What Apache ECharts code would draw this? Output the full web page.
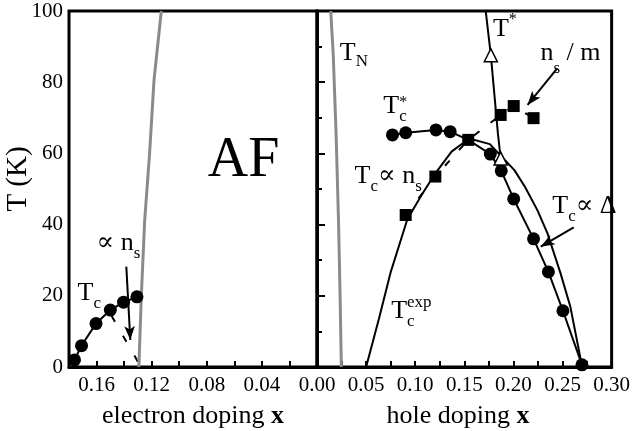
<!DOCTYPE html>
<html>
<head>
<meta charset="utf-8">
<style>
  html, body { margin: 0; padding: 0; background: #fff; }
  #chart { width: 633px; height: 431px; }
</style>
<script src="https://cdn.jsdelivr.net/npm/echarts/dist/echarts.min.js"></script>
</head>
<body>
<div id="chart"></div>
<script>
// ---- Electron-doped side (doping x, temperature K) ----
const electronTN = [[0.113, 100], [0.1183, 80.6], [0.1215, 60], [0.1251, 41], [0.1275, 20], [0.1293, 0]];
const electronTc = [[0.176, 2.0], [0.1709, 6.0], [0.1604, 12.2], [0.150, 16.0], [0.1404, 18.2], [0.1307, 19.7]];
const electronNsFit = [[0.1515, 16], [0.1278, 0]];

// ---- Hole-doped side ----
const holeTN = [[0.014, 100], [0.0165, 88], [0.0195, 65], [0.022, 40], [0.0235, 20], [0.0248, 0]];
const holeTcExp = [[0.05, 0], [0.063, 13.5], [0.0752, 26.8], [0.092, 41.5], [0.107, 48.5], [0.1205, 54.4],
                   [0.137, 60.5], [0.155, 64.2], [0.176, 62.6], [0.19, 58.5], [0.201, 55.3], [0.212, 50.5],
                   [0.2245, 44], [0.2346, 37.6], [0.248, 26.3], [0.258, 16.9], [0.27, 0]];
const holeTcCircles = [[0.0768, 65.2], [0.0903, 65.8], [0.1211, 66.6], [0.1356, 66.1], [0.154, 63.8],
                       [0.1765, 59.8], [0.1876, 55.1], [0.2003, 47.2], [0.2205, 36.0], [0.2356, 26.7],
                       [0.2504, 15.8], [0.2698, 0.6]];
const holeTcCircleShown = [true, true, true, true, false, true, true, true, true, true, true, true];
const holeNsSquares = [[0.0903, 42.7], [0.1205, 53.5], [0.154, 63.8], [0.187, 70.8], [0.2003, 73.3], [0.2205, 69.9]];
const holeTstar = [[0.1718, 100], [0.177, 87.6], [0.1842, 65.6], [0.187, 58.6]];
const holeTstarShown = [false, true, false, true];

// ---- Arrows (from, to) ----
const electronArrows = [[[0.1384, 28.2], [0.1355, 7.6]]];
const holeArrows = [[[0.2446, 83.9], [0.2144, 73.6]], [[0.2614, 39.2], [0.2278, 33.8]]];

// ---- Tick labels ----
const tempTickLabels = ['0', '20', '40', '60', '80', '100'];
const electronTickLabels = ['0.16', '0.12', '0.08', '0.04'];
const holeTickLabels = ['0.00', '0.05', '0.10', '0.15', '0.20', '0.25', '0.30'];

const SERIF = '"Liberation Serif", "Times New Roman", "DejaVu Serif", serif';
const BLACK = '#000';
const GREY = '#8a8a8a';

const chart = echarts.init(document.getElementById('chart'), null, { renderer: 'canvas' });

const axisLabelStyle = { fontFamily: SERIF, fontSize: 21, color: BLACK };

function xAxisFor(gridIndex, max, interval, inverse, labels) {
  return {
    type: 'value', gridIndex, min: 0, max, interval, inverse,
    axisLine: { show: true, onZero: false, lineStyle: { color: BLACK, width: 3 } },
    axisTick: { show: true, inside: true, length: 6, lineStyle: { color: BLACK, width: 2 } },
    splitLine: { show: false },
    axisLabel: Object.assign({
      margin: 8, showMinLabel: true, showMaxLabel: true,
      formatter: v => { const s = v.toFixed(2); return labels.includes(s) ? s : ''; }
    }, axisLabelStyle)
  };
}

function arrowSeries(xi, yi, arrows) {
  return {
    type: 'line', xAxisIndex: xi, yAxisIndex: yi, data: [], silent: true,
    markLine: {
      silent: true, symbol: ['none', 'arrow'], symbolSize: [8, 14],
      label: { show: false },
      lineStyle: { color: BLACK, width: 2, type: 'solid' },
      emphasis: { disabled: true },
      data: arrows.map(a => [{ coord: a[0] }, { coord: a[1] }])
    }
  };
}

const option = {
  animation: false,
  backgroundColor: '#fff',
  grid: [
    { left: 69, top: 11, width: 248, height: 356, show: true, borderColor: BLACK, borderWidth: 3, containLabel: false },
    { left: 317, top: 11, width: 298, height: 356, show: true, borderColor: BLACK, borderWidth: 3, containLabel: false }
  ],
  xAxis: [
    xAxisFor(0, 0.18, 0.02, true, electronTickLabels),
    xAxisFor(1, 0.30, 0.025, false, holeTickLabels)
  ],
  yAxis: [
    {
      type: 'value', gridIndex: 0, min: 0, max: 100, interval: 20,
      axisLine: { show: true, lineStyle: { color: BLACK, width: 3 } },
      axisTick: { show: true, inside: true, length: 8, lineStyle: { color: BLACK, width: 2 } },
      minorTick: { show: true, splitNumber: 2, length: 5, lineStyle: { color: BLACK, width: 2 } },
      splitLine: { show: false },
      axisLabel: Object.assign({ margin: 6, formatter: v => { const s = String(Math.round(v)); return tempTickLabels.includes(s) ? s : ''; } }, axisLabelStyle)
    },
    {
      type: 'value', gridIndex: 1, min: 0, max: 100, interval: 20,
      axisLine: { show: false }, axisTick: { show: false }, axisLabel: { show: false }, splitLine: { show: false }
    }
  ],
  series: [
    // electron side: superconducting Tc with filled circles
    {
      type: 'line', xAxisIndex: 0, yAxisIndex: 0, data: electronTc,
      symbol: 'circle', symbolSize: 13, itemStyle: { color: BLACK },
      lineStyle: { color: BLACK, width: 2 }
    },
    // electron side: Tc proportional to superfluid density (dashed)
    {
      type: 'line', xAxisIndex: 0, yAxisIndex: 0, data: electronNsFit, symbol: 'none',
      lineStyle: { color: BLACK, width: 2, type: [7, 16], dashOffset: 16.5 }
    },
    // electron side: Neel temperature
    {
      type: 'line', xAxisIndex: 0, yAxisIndex: 0, data: electronTN, symbol: 'none',
      lineStyle: { color: GREY, width: 3 }
    },
    arrowSeries(0, 0, electronArrows),

    // hole side: Neel temperature
    {
      type: 'line', xAxisIndex: 1, yAxisIndex: 1, data: holeTN, symbol: 'none',
      lineStyle: { color: GREY, width: 3 }
    },
    // hole side: experimental Tc dome
    {
      type: 'line', xAxisIndex: 1, yAxisIndex: 1, data: holeTcExp, symbol: 'none',
      lineStyle: { color: BLACK, width: 2 }
    },
    // hole side: Tc* plateau and Tc proportional to the gap (filled circles)
    {
      type: 'line', xAxisIndex: 1, yAxisIndex: 1,
      data: holeTcCircles.map((p, i) => ({ value: p, symbol: holeTcCircleShown[i] ? 'circle' : 'none' })),
      symbol: 'circle', symbolSize: 13, itemStyle: { color: BLACK },
      lineStyle: { color: BLACK, width: 2 }
    },
    // hole side: superfluid density n_s / m (filled squares, dashed)
    {
      type: 'line', xAxisIndex: 1, yAxisIndex: 1, data: holeNsSquares,
      symbol: 'rect', symbolSize: 12, itemStyle: { color: BLACK },
      lineStyle: { color: BLACK, width: 2, type: [7, 14], dashOffset: 0 }
    },
    // hole side: pseudogap temperature T* (open triangles)
    {
      type: 'line', xAxisIndex: 1, yAxisIndex: 1,
      data: holeTstar.map((p, i) => ({ value: p, symbol: holeTstarShown[i] ? 'triangle' : 'none' })),
      symbol: 'triangle', symbolSize: 13,
      itemStyle: { color: '#fff', borderColor: BLACK, borderWidth: 1.5 },
      lineStyle: { color: BLACK, width: 2 }
    },
    arrowSeries(1, 1, holeArrows)
  ]
};

chart.setOption(option);

// ---- Text annotations, anchored at data positions (baseline-left of first glyph) ----
const annotations = [
  { grid: 0, at: [0.1738, 18.3], pieces: [['T', 26], ['c', 17, 7]] },
  { grid: 0, at: [0.1600, 32.3], pieces: [['\u221D n', 26], ['s', 17, 7]] },
  { grid: 0, at: [0.0793, 52.5], pieces: [['AF', 56]] },
  { grid: 1, at: [0.0232, 85.7], pieces: [['T', 26], ['N', 17, 5]] },
  { grid: 1, at: [0.1792, 92.4], pieces: [['T', 26], ['*', 16, -13]] },
  { grid: 1, at: [0.2275, 85.7], pieces: [['n', 26], ['s', 17, 12], [' / m', 26, 0]] },
  { grid: 1, at: [0.0675, 70.8], pieces: [['T', 26], ['c', 17, 7], ['*', 16, -7, true]] },
  { grid: 1, at: [0.0383, 51.1], pieces: [['T', 26], ['c', 17, 7], ['\u221D n', 26], ['s', 17, 7]] },
  { grid: 1, at: [0.2396, 42.7], pieces: [['T', 26], ['c', 17, 7], ['\u221D \u0394', 26]] },
  { grid: 1, at: [0.0755, 13.2], pieces: [['T', 26], ['c', 17, 7], ['exp', 17, -12, true]] }
];

const measureCtx = document.createElement('canvas').getContext('2d');
function textWidth(t, size) {
  measureCtx.font = size + 'px ' + SERIF;
  return measureCtx.measureText(t).width;
}

const graphics = [];
annotations.forEach(a => {
  const [px, py] = chart.convertToPixel({ gridIndex: a.grid }, a.at);
  let x = px, prevStart = px;
  a.pieces.forEach(([t, size, dy = 0, stack = false]) => {
    const startX = stack ? prevStart : x;
    const baseline = py + dy;
    graphics.push({
      type: 'text', z: 100, silent: true,
      x: startX, y: baseline - 0.33 * size,
      style: {
        text: t, fill: BLACK, font: size + 'px ' + SERIF,
        align: 'left', verticalAlign: 'middle', textAlign: 'left', textVerticalAlign: 'middle'
      }
    });
    const w = textWidth(t, size);
    if (!stack) { prevStart = startX; x = startX + w; }
    else { x = Math.max(x, startX + w); }
  });
});

// axis titles
function axisTitle(x, y, main, size, rotation) {
  return {
    type: 'text', z: 100, silent: true, x, y, rotation: rotation || 0,
    style: {
      text: main, fill: BLACK, font: size + 'px ' + SERIF,
      align: 'center', verticalAlign: 'middle', textAlign: 'center', textVerticalAlign: 'middle',
      rich: {
        n: { fontFamily: SERIF, fontSize: size, fill: BLACK },
        b: { fontFamily: SERIF, fontSize: size, fontWeight: 'bold', fill: BLACK }
      }
    }
  };
}
graphics.push(axisTitle(193, 416, '{n|electron doping }{b|x}', 26));
graphics.push(axisTitle(458, 416, '{n|hole doping }{b|x}', 26));
graphics.push(axisTitle(18, 179, '{n|T (K)}', 29, Math.PI / 2));

chart.setOption({ graphic: graphics });
</script>
</body>
</html>
